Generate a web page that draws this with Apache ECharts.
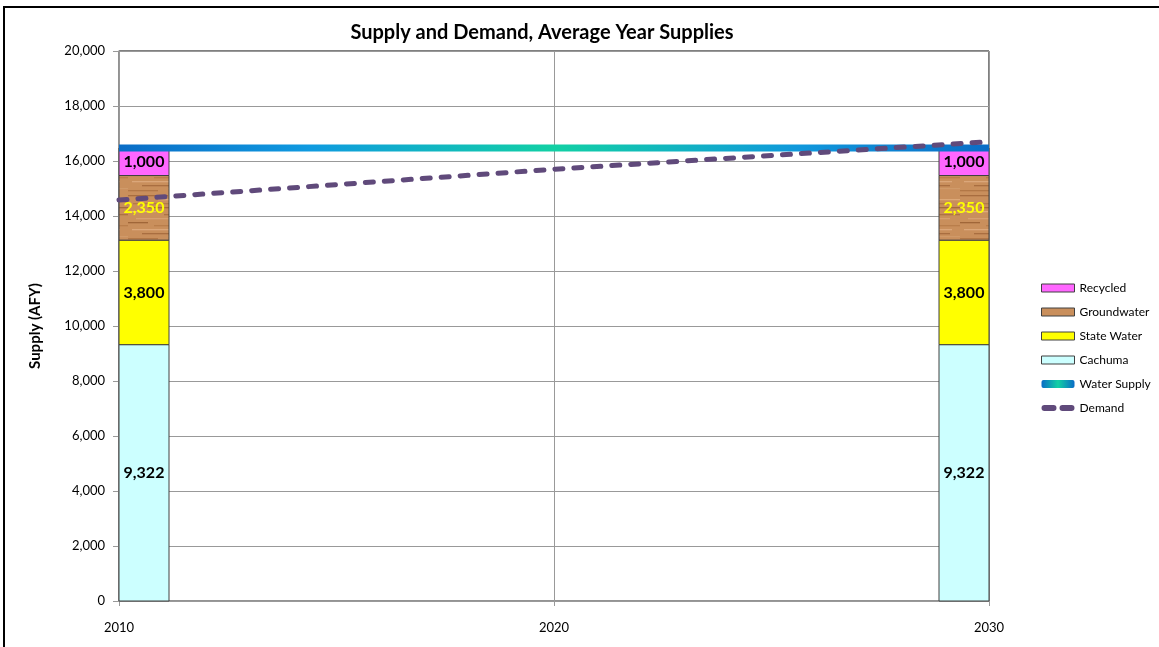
<!DOCTYPE html>
<html>
<head>
<meta charset="utf-8">
<script src="https://cdn.jsdelivr.net/npm/echarts@6/dist/echarts.min.js"></script>
<style>
  html, body { margin: 0; padding: 0; background: #fff; }
  #chart { width: 1159px; height: 647px; }
</style>
</head>
<body>
<div id="chart"></div>
<script>
// Supply components (AFY) for each planning year
const years = [2010, 2030];
const cachuma = [9322, 9322];
const stateWater = [3800, 3800];
const groundwater = [2350, 2350];
const recycled = [1000, 1000];

// Projected demand (AFY)
const demandYears = [2010, 2020, 2030];
const demand = [14580, 15700, 16700];

// Axis ticks
const yTicks = { min: 0, max: 20000, step: 2000 };
const xTicks = { min: 2010, max: 2030, step: 10 };

// Total supply = sum of components in the first year
const totalSupply = cachuma[0] + stateWater[0] + groundwater[0] + recycled[0];

const FONT = 'Lato, "Open Sans", sans-serif';

// Wood-grain fill for groundwater
function woodTexture() {
  const c = document.createElement('canvas');
  c.width = 64; c.height = 48;
  const g = c.getContext('2d');
  g.fillStyle = '#c98f5c';
  g.fillRect(0, 0, 64, 48);
  const streaks = [
    [0, 3, 40, '#a86d3f'], [30, 7, 34, '#dca878'], [5, 11, 50, '#b57a48'],
    [20, 15, 44, '#a46a3c'], [0, 19, 28, '#deac7e'], [36, 22, 28, '#ad7343'],
    [8, 26, 46, '#d6a070'], [0, 30, 20, '#a06638'], [26, 33, 38, '#b97e4b'],
    [4, 37, 52, '#dba77a'], [14, 41, 40, '#a96e40'], [40, 44, 24, '#d09a69'],
    [0, 46, 30, '#b27746']
  ];
  streaks.forEach(([x, y, w, col]) => {
    g.fillStyle = col;
    g.fillRect(x, y, w, 1.3);
  });
  return c;
}
const wood = woodTexture();

// Stack the components: each item is [year, base, value]
const layers = [
  { name: 'Cachuma', values: cachuma, fill: '#ccffff', text: '#000' },
  { name: 'State Water', values: stateWater, fill: '#ffff00', text: '#000' },
  { name: 'Groundwater', values: groundwater, fill: { image: wood, repeat: 'repeat' }, text: '#ffff00' },
  { name: 'Recycled', values: recycled, fill: '#ff66ff', text: '#000' }
];
const running = years.map(() => 0);
layers.forEach(layer => {
  layer.data = years.map((yr, i) => {
    const item = [yr, running[i], layer.values[i]];
    running[i] += layer.values[i];
    return item;
  });
});

const BAR_W = 100;

function makeRender(layer) {
  return function (params, api) {
    const x = api.value(0), base = api.value(1), val = api.value(2);
    const p0 = api.coord([x, base]);
    const p1 = api.coord([x, base + val]);
    const cs = params.coordSys;
    const rect = echarts.graphic.clipRectByRect(
      { x: p0[0] - BAR_W / 2, y: p1[1], width: BAR_W, height: p0[1] - p1[1] },
      { x: cs.x, y: cs.y, width: cs.width, height: cs.height }
    );
    if (!rect) return null;
    return {
      type: 'group',
      children: [
        {
          type: 'rect',
          shape: rect,
          style: { fill: layer.fill, stroke: '#404040', lineWidth: 1 }
        },
        {
          type: 'text',
          x: rect.x + rect.width / 2,
          y: rect.y + rect.height / 2,
          style: {
            text: val.toLocaleString('en-US'),
            fill: layer.text,
            font: 'bold 16px ' + FONT,
            align: 'center', verticalAlign: 'middle'
          },
          z2: 10
        }
      ]
    };
  };
}

const supplyGradient = new echarts.graphic.LinearGradient(0, 0, 1, 0, [
  { offset: 0, color: '#0a6cc6' },
  { offset: 0.22, color: '#0f9ae0' },
  { offset: 0.5, color: '#12d0a4' },
  { offset: 0.78, color: '#1098dc' },
  { offset: 1, color: '#0a6cc6' }
]);
const legendSupplyGradient = new echarts.graphic.LinearGradient(0, 0, 1, 0, [
  { offset: 0, color: '#0a6cc6' },
  { offset: 0.5, color: '#12d0a4' },
  { offset: 1, color: '#0a6cc6' }
]);

const chart = echarts.init(document.getElementById('chart'), null, { renderer: 'canvas' });

const barSeries = layers.map(layer => ({
  name: layer.name,
  type: 'custom',
  renderItem: makeRender(layer),
  itemStyle: { color: layer.fill, borderColor: '#404040', borderWidth: 1 },
  encode: { x: 0, y: [1, 2] },
  data: layer.data
}));

chart.setOption({
  animation: false,
  backgroundColor: '#fff',
  title: {
    text: 'Supply and Demand, Average Year Supplies',
    left: 537, top: 18, textAlign: 'center',
    textStyle: { fontFamily: FONT, fontWeight: 'bold', fontSize: 20, color: '#000' }
  },
  graphic: [{
    type: 'polyline', silent: true,
    shape: { points: [[4, 647], [4, 7], [1159, 7]] },
    style: { stroke: '#000', lineWidth: 2, fill: null }
  }],
  legend: {
    orient: 'vertical', left: 1036, top: 276,
    itemWidth: 33, itemHeight: 8, itemGap: 10,
    textStyle: { fontFamily: FONT, fontSize: 12, color: '#000', lineHeight: 14 },
    data: [
      { name: 'Recycled', icon: 'rect', itemStyle: { color: '#ff66ff', borderColor: '#404040', borderWidth: 1 } },
      { name: 'Groundwater', icon: 'rect', itemStyle: { color: '#c98f5c', borderColor: '#404040', borderWidth: 1 } },
      { name: 'State Water', icon: 'rect', itemStyle: { color: '#ffff00', borderColor: '#404040', borderWidth: 1 } },
      { name: 'Cachuma', icon: 'rect', itemStyle: { color: '#ccffff', borderColor: '#404040', borderWidth: 1 } },
      { name: 'Water Supply', icon: 'roundRect', itemStyle: { color: legendSupplyGradient, borderWidth: 0 } },
      { name: 'Demand', icon: 'path://M3,0 h9 a3,3 0 0 1 0,6 h-9 a3,3 0 0 1 0,-6z M21,0 h9 a3,3 0 0 1 0,6 h-9 a3,3 0 0 1 0,-6z',
        itemStyle: { color: '#604a7b', borderWidth: 0 } }
    ]
  },
  grid: {
    left: 119, right: 170, top: 51, bottom: 46,
    show: true, borderColor: '#000', borderWidth: 1
  },
  xAxis: {
    type: 'value', min: xTicks.min, max: xTicks.max, interval: xTicks.step,
    axisLine: { show: true, lineStyle: { color: '#999', width: 1.5 } },
    axisTick: { show: true, length: 5, lineStyle: { color: '#999' } },
    axisLabel: { margin: 20, fontFamily: FONT, fontSize: 13, color: '#000', formatter: v => String(v) },
    splitLine: { show: true, lineStyle: { color: '#999' } }
  },
  yAxis: {
    type: 'value', min: yTicks.min, max: yTicks.max, interval: yTicks.step,
    name: 'Supply (AFY)', nameLocation: 'middle', nameGap: 76, nameRotate: 90,
    nameTextStyle: { fontFamily: FONT, fontWeight: 'bold', fontSize: 15, color: '#000' },
    axisLine: { show: true, lineStyle: { color: '#999', width: 1.5 } },
    axisTick: { show: true, length: 6, lineStyle: { color: '#999' } },
    axisLabel: { margin: 14, fontFamily: FONT, fontSize: 13, color: '#000' },
    splitLine: { show: true, lineStyle: { color: '#999' } }
  },
  series: barSeries.concat([
    {
      name: 'Water Supply', type: 'line', symbol: 'none', z: 5,
      lineStyle: { color: supplyGradient, width: 7 },
      itemStyle: { color: '#0a6cc6' },
      data: [[xTicks.min, totalSupply], [xTicks.max, totalSupply]]
    },
    {
      name: 'Demand', type: 'line', symbol: 'none', z: 6,
      lineStyle: { color: '#604a7b', width: 5, type: [8, 11], cap: 'round' },
      itemStyle: { color: '#604a7b' },
      data: demandYears.map((y, i) => [y, demand[i]])
    }
  ])
});
</script>
</body>
</html>
